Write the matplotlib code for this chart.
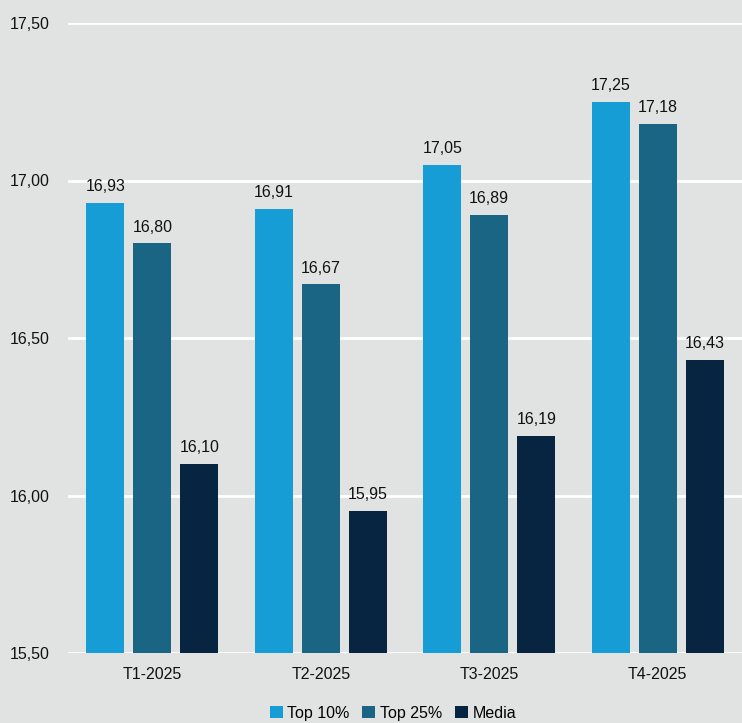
import matplotlib
matplotlib.use("Agg")
import matplotlib.pyplot as plt
import numpy as np

categories = ["T1-2025", "T2-2025", "T3-2025", "T4-2025"]
series_names = ["Top 10%", "Top 25%", "Media"]
top10 = [16.93, 16.91, 17.05, 17.25]
top25 = [16.80, 16.67, 16.89, 17.18]
media = [16.10, 15.95, 16.19, 16.43]
colors = ["#169dd6", "#1b6584", "#072441"]
yticks = [15.5, 16.0, 16.5, 17.0, 17.5]

plt.rcParams['font.family'] = ['Liberation Sans', 'DejaVu Sans']

fig = plt.figure(figsize=(7.42, 7.23), dpi=100)
fig.patch.set_facecolor("#e1e3e3")
ax = fig.add_axes([68/742, 70/723, 674/742, 630/723])
ax.set_facecolor("#e1e3e3")

x = np.arange(len(categories))
w = 0.226
off = 0.279
for i, (vals, c, name) in enumerate(zip([top10, top25, media], colors, series_names)):
    pos = x + (i - 1) * off
    ax.bar(pos, np.array(vals) - 15.5, width=w, bottom=15.5, color=c, label=name, zorder=3)
    for p, v in zip(pos, vals):
        ax.text(p, v + 0.028, f"{v:.2f}".replace(".", ","), ha="center", va="bottom",
                fontsize=11.5, color="#111111", zorder=4)

ax.set_ylim(15.5, 17.5)
ax.set_xlim(-0.5, 3.5)
ax.set_yticks(yticks)
ax.set_yticklabels([f"{t:.2f}".replace(".", ",") for t in yticks], fontsize=11.5, color="#111111")
ax.set_xticks(x)
ax.set_xticklabels(categories, fontsize=11.5, color="#111111")
ax.tick_params(axis="both", length=0)
ax.tick_params(axis="y", pad=13)
ax.tick_params(axis="x", pad=10)
ax.yaxis.grid(True, color="white", linewidth=2, zorder=0)
for s in ax.spines.values():
    s.set_visible(False)

ax.legend(loc="upper center", bbox_to_anchor=(0.5 - 12/674, -0.084), ncol=3, frameon=False,
          fontsize=11.5, handlelength=0.8, handleheight=0.8, handletextpad=0.3,
          columnspacing=0.8, borderaxespad=0, borderpad=0)

fig.savefig("out.png", dpi=100, facecolor=fig.get_facecolor())
